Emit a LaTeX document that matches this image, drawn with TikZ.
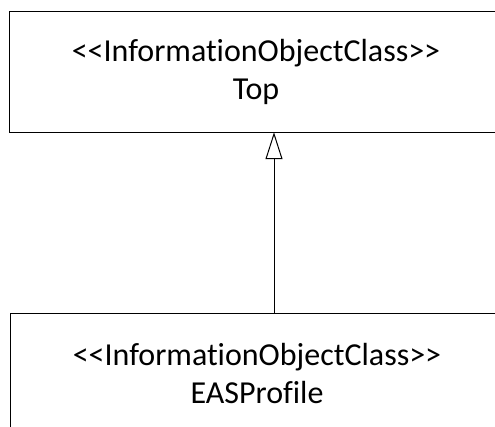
\documentclass[tikz,border=0pt]{standalone}
\usepackage{fontspec}
\setmainfont{Carlito}[Ligatures=NoCommon]
\usetikzlibrary{arrows.meta,positioning}
\newcommand{\stereo}[1]{<\kern0pt<#1>\kern0pt>}
\tikzset{
	uml class/.style={
		rectangle, minimum width=492pt, minimum height=120pt,
		inner sep=0pt, align=center,
		font=\fontsize{32}{38}\selectfont},
	uml box/.style={line width=1.2pt},
	inherit/.style={-{Triangle[open,length=27pt,width=17pt]}, line width=1pt}
}

\begin{document}
\begin{tikzpicture}[x=1pt,y=1pt]
	\useasboundingbox (0,0) rectangle (495,427);
	\clip (0,0) rectangle (495,427);
	\node[uml class] (Top) at (256,355) {\stereo{InformationObjectClass}\\Top};
	\node[uml class, below=181pt of Top, xshift=1pt] (EASProfile) {\stereo{InformationObjectClass}\\EASProfile};
	% boxes run out of the frame on the right
	\draw[uml box] (Top.north west) rectangle ([xshift=40pt]Top.south east);
	\draw[uml box] (EASProfile.north west) rectangle ([xshift=40pt]EASProfile.south east);
	\draw[inherit] ([xshift=17pt]EASProfile.north) -- ([xshift=18pt]Top.south);
\end{tikzpicture}
\end{document}
